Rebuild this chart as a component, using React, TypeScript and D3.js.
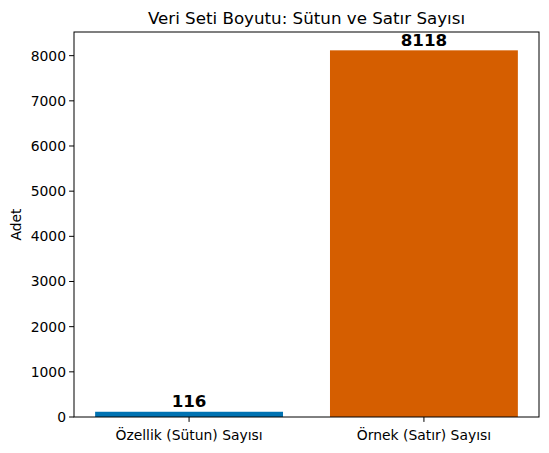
import React from 'react';
import * as d3 from 'd3';

const categories = ['Özellik (Sütun) Sayısı', 'Örnek (Satır) Sayısı'];
const counts = [116, 8118];
const colors = ['#0072B2', '#D55E00'];
const yTicks = [0, 1000, 2000, 3000, 4000, 5000, 6000, 7000, 8000];

export default function App() {
  const width = 549;
  const height = 453;
  const margin = { top: 32, right: 10, bottom: 36, left: 74 };
  const innerW = 539 - margin.left;
  const innerH = 417 - margin.top;

  // matplotlib-like limits: bars of width 0.8, 5% margins
  const x = d3.scaleLinear().domain([-0.49, 1.49]).range([0, innerW]);
  const y = d3.scaleLinear().domain([0, d3.max(counts)! * 1.05]).range([innerH, 0]);
  const barW = x(0.8) - x(0);
  const font = 'DejaVu Sans, sans-serif';

  return (
    <svg width={width} height={height} style={{ display: 'block', position: 'absolute', left: 0, top: 0 }}>
      <rect width={width} height={height} fill="#fff" />
      <text x={margin.left + innerW / 2} y={24} textAnchor="middle" fontFamily={font} fontSize={16.7}>
        Veri Seti Boyutu: Sütun ve Satır Sayısı
      </text>
      <g transform={`translate(${margin.left},${margin.top})`}>
        {counts.map((v, i) => (
          <g key={i}>
            <rect x={x(i) - barW / 2} y={y(v)} width={barW} height={innerH - y(v)} fill={colors[i]} />
            <text x={x(i)} y={y(v) - 4.5} textAnchor="middle" fontFamily={font} fontSize={16.7} fontWeight="bold">
              {v}
            </text>
          </g>
        ))}
        <rect x={0} y={0} width={innerW} height={innerH} fill="none" stroke="#000" strokeWidth={1} />
        {yTicks.map(t => (
          <g key={t} transform={`translate(0,${y(t)})`}>
            <line x1={-4.9} x2={0} stroke="#000" />
            <text x={-8} dy="0.35em" textAnchor="end" fontFamily={font} fontSize={13.9}>{t}</text>
          </g>
        ))}
        {categories.map((c, i) => (
          <g key={c} transform={`translate(${x(i)},${innerH})`}>
            <line y1={0} y2={4.9} stroke="#000" />
            <text y={22.5} textAnchor="middle" fontFamily={font} fontSize={13.9}>{c}</text>
          </g>
        ))}
        <text transform={`translate(${-53},${innerH / 2}) rotate(-90)`} textAnchor="middle" fontFamily={font} fontSize={13.9}>
          Adet
        </text>
      </g>
    </svg>
  );
}
